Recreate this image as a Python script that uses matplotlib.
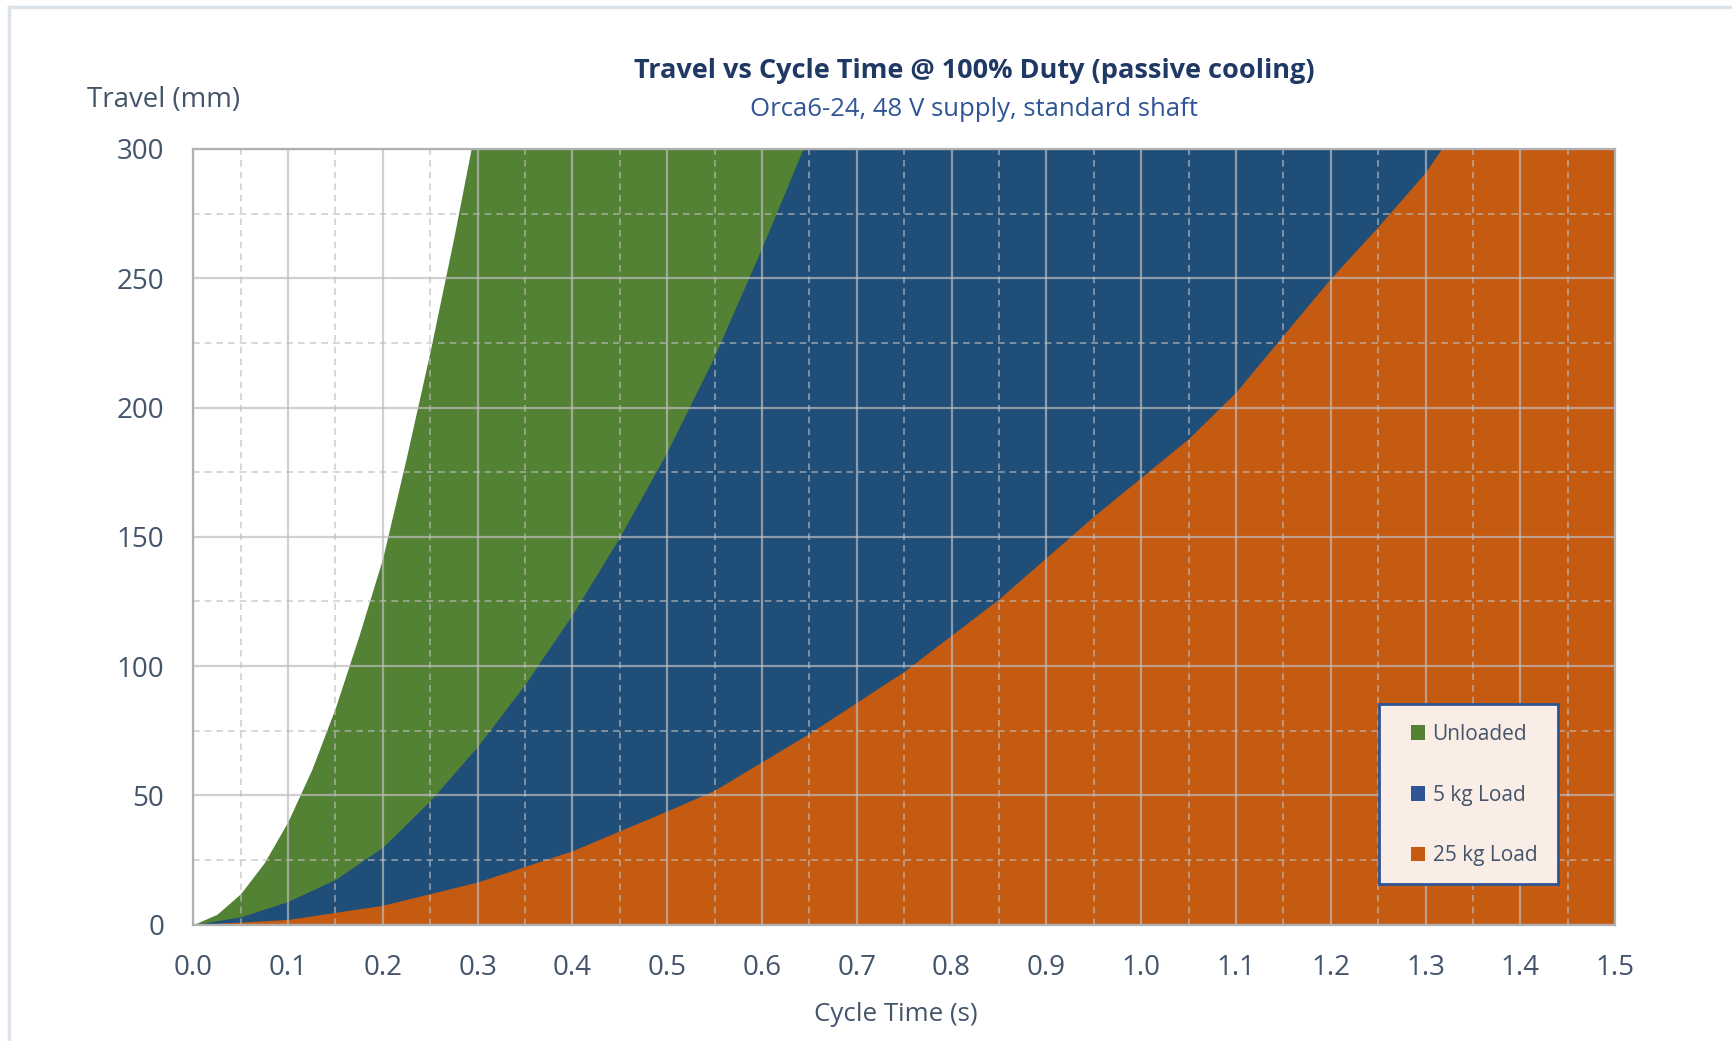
import matplotlib
matplotlib.use("Agg")
import matplotlib.pyplot as plt
from matplotlib.lines import Line2D
from matplotlib.patches import Patch, Rectangle

# ---- data ----
unloaded_t = [0, 0.025, 0.05, 0.075, 0.1, 0.125, 0.15, 0.175, 0.2, 0.225, 0.25, 0.275, 0.3]
unloaded_v = [0, 4, 12, 24, 40, 60, 84, 112, 142, 181, 222, 266, 313]

load5_t = [0, 0.05, 0.1, 0.15, 0.2, 0.25, 0.3, 0.35, 0.4, 0.45, 0.5, 0.55, 0.6, 0.65]
load5_v = [0, 3, 9, 17.5, 30, 48, 69, 93, 120, 150, 183, 220, 262, 306]

load25_t = [0, 0.1, 0.2, 0.3, 0.4, 0.5, 0.55, 0.65, 0.75, 0.85, 0.95, 1.05, 1.1, 1.15, 1.2, 1.25, 1.3, 1.35]
load25_v = [0, 2, 7.5, 16.5, 28.6, 44, 52, 74, 98, 126, 158, 188, 206, 228, 250, 270, 291, 318]

series_names = ["Unloaded", "5 kg Load", "25 kg Load"]
fill_colors = ["#548235", "#1f4e79", "#c55a11"]
legend_colors = ["#548235", "#2f5597", "#c55a11"]

x_ticks = [0.0, 0.1, 0.2, 0.3, 0.4, 0.5, 0.6, 0.7, 0.8, 0.9, 1.0, 1.1, 1.2, 1.3, 1.4, 1.5]
y_ticks = [0, 50, 100, 150, 200, 250, 300]
x_max = 1.5
y_max = 300

title = "Travel vs Cycle Time @ 100% Duty (passive cooling)"
subtitle = "Orca6-24, 48 V supply, standard shaft"
x_label = "Cycle Time (s)"
y_label = "Travel (mm)"

plt.rcParams['font.family'] = ['Open Sans', 'DejaVu Sans']

fig = plt.figure(figsize=(17.32, 10.41), dpi=100)
ax = fig.add_axes([0.1116, 0.1118, 0.8209, 0.7451])

series = [(unloaded_t, unloaded_v), (load5_t, load5_v), (load25_t, load25_v)]
for (t, v), c in zip(series, fill_colors):
    ax.fill_betweenx(v, t, x_max, color=c, linewidth=0, zorder=1)

ax.set_xlim(0, x_max)
ax.set_ylim(0, y_max)
ax.set_xticks(x_ticks)
ax.set_xticklabels([f"{x:.1f}" for x in x_ticks])
ax.set_yticks(y_ticks)
ax.set_xticks([x + 0.05 for x in x_ticks[:-1]], minor=True)
ax.set_yticks([y + 25 for y in y_ticks[:-1]], minor=True)

ax.grid(which='major', color='#bdbdbd', linewidth=1.6, alpha=0.7, zorder=2)
ax.grid(which='minor', color='#bdbdbd', linewidth=1.2, linestyle=(0, (4, 3)), alpha=0.7, zorder=2)
ax.set_axisbelow(False)

ax.tick_params(which='both', length=0)
ax.tick_params(axis='x', labelsize=20, colors='#44546a', pad=21)
ax.tick_params(axis='y', labelsize=20, colors='#44546a', pad=21)
for s in ax.spines.values():
    s.set_color('#b0b0b0')
    s.set_linewidth(1.6)
    s.set_zorder(3)

# legend box
ax.add_patch(Rectangle((0.8337, 0.0527), 0.1258, 0.2323, transform=ax.transAxes,
                       facecolor='#f9ede6', edgecolor='#2f5597', linewidth=2, zorder=4))
handles = [Patch(facecolor=c, edgecolor='none') for c in legend_colors]
leg = ax.legend(handles, series_names, loc='upper left',
                bbox_to_anchor=(0.8562, 0.259),
                fontsize=15, labelcolor='#44546a', frameon=False,
                handlelength=0.7, handleheight=0.7, handletextpad=0.35,
                labelspacing=1.91, borderpad=0, borderaxespad=0)
leg.set_zorder(5)

fig.text(0.5625, 0.9314, title, ha='center', va='center', fontsize=19.5,
         fontweight='bold', color='#1f3864')
fig.text(0.5625, 0.8949, subtitle, ha='center', va='center', fontsize=18.5,
         color='#2f5597')
fig.text(0.0502, 0.904, y_label, ha='left', va='center', fontsize=19.9, color='#44546a')
fig.text(0.517, 0.025, x_label, ha='center', va='center', fontsize=18.6, color='#44546a')

# chart-area border (top and left)
fig.add_artist(Line2D([0.0052, 1.0], [0.9933, 0.9933], transform=fig.transFigure,
                      color='#dde3ea', linewidth=2.5))
fig.add_artist(Line2D([0.0052, 0.0052], [0.0, 0.9933], transform=fig.transFigure,
                      color='#dde3ea', linewidth=2.5))

fig.savefig("out.png", dpi=100, facecolor='white')
